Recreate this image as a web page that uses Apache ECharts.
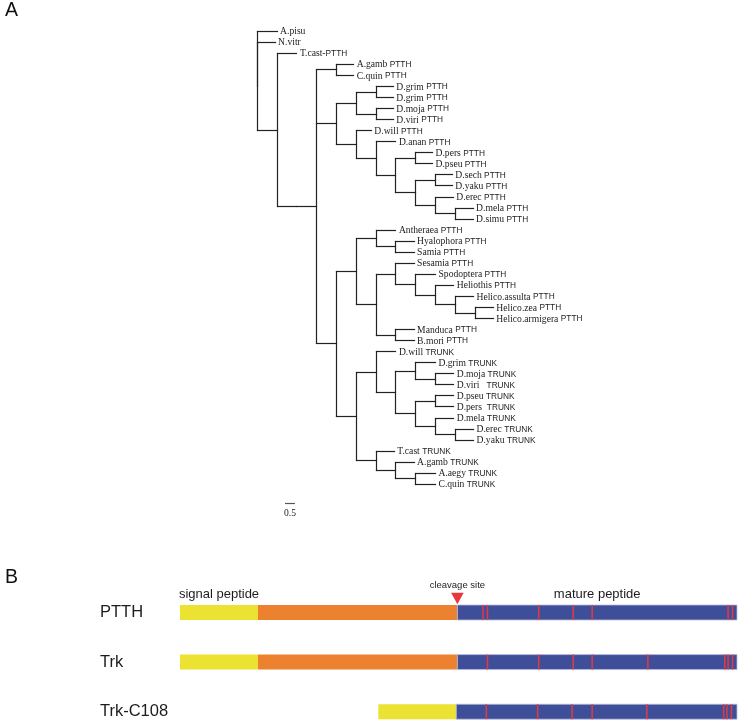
<!DOCTYPE html>
<html><head><meta charset="utf-8">
<script src="https://cdn.jsdelivr.net/npm/echarts@6/dist/echarts.min.js"></script>
<style>html,body{margin:0;padding:0;background:#fff}#c{width:742px;height:723px}</style>
</head><body><div id="c"></div><script>
// ================= Panel A data =================
const leafLabels = [
  'A.pisu','N.vitr','T.cast-PTTH','A.gamb PTTH','C.quin PTTH',
  'D.grim PTTH','D.grim PTTH','D.moja PTTH','D.viri PTTH','D.will PTTH',
  'D.anan PTTH','D.pers PTTH','D.pseu PTTH','D.sech PTTH','D.yaku PTTH',
  'D.erec PTTH','D.mela PTTH','D.simu PTTH','Antheraea PTTH','Hyalophora PTTH',
  'Samia PTTH','Sesamia PTTH','Spodoptera PTTH','Heliothis PTTH','Helico.assulta PTTH',
  'Helico.zea PTTH','Helico.armigera PTTH','Manduca PTTH','B.mori PTTH','D.will TRUNK',
  'D.grim TRUNK','D.moja TRUNK','D.viri   TRUNK','D.pseu TRUNK','D.pers  TRUNK',
  'D.mela TRUNK','D.erec TRUNK','D.yaku TRUNK','T.cast TRUNK','A.gamb TRUNK',
  'A.aegy TRUNK','C.quin TRUNK'
];
// Newick topology; leaf names are indices into leafLabels, branch lengths in tree units
const cladeDipteraPTTH = "((3:0.87,4:0.87):1,(((5:0.87,6:0.87):1,(7:0.87,8:0.87):1):1,(9:0.76,(10:1,((11:0.85,12:0.85):1,((13:0.85,14:0.85):1,(15:0.9,(16:0.9,17:0.9):1):1):1):1):1):1)";
const cladeLepPTTH = "((18:1,(19:0.92,20:0.92):1):1,((21:0.92,(22:1,(23:0.92,(24:0.92,(25:0.92,26:0.92):1):1):1):1):1,(27:0.92,28:0.92):1):1)";
const cladeTRUNK = "((29:1,((30:1,(31:0.92,32:0.92):1):1,((33:0.92,34:0.92):1,(35:0.92,(36:0.92,37:0.92):1):1):1):1):1,(38:0.92,(39:0.92,(40:1,41:1):1):1):1)";
const treeNewick = "(0:1,(1:0.9,(2:1,(" + cladeDipteraPTTH + ":1,(" + cladeLepPTTH + ":1," + cladeTRUNK + ":1):1):1):1):1);";
const scaleBarLength = [0.5];
const scaleBarLabel = ['0.5'];
const panelLetters = ['A','B'];

// ================= Panel B data =================
const proteins = ['PTTH','Trk','Trk-C108'];
const signalSeg = [[0,35],[0,35],[89,124]];
const proSeg = [[35,124.5],[35,124.5],null];
const matureSeg = [[124.5,250],[124.5,250],[124,250]];
const cysteinePos = [
  [136,138,161,176.5,185,246,248],
  [138,161,176.5,185,210,244.5,246,248],
  [137.5,160.5,176,185,209.5,244,245.5,247.5]
];
const cleavageSite = [124.5];
const regionLabels = ['signal peptide','cleavage site','mature peptide'];

// ================= build tree =================
function parseNewick(s){
  let i=0;
  function node(){
    const n={children:[],name:'',len:0};
    if(s[i]==='('){
      i++; n.children.push(node());
      while(s[i]===','){i++; n.children.push(node());}
      i++;
    }
    let name='';
    while(i<s.length && !':,);'.includes(s[i])){name+=s[i];i++;}
    n.name=name;
    if(s[i]===':'){i++; let num=''; while(i<s.length && !',);'.includes(s[i])){num+=s[i];i++;} n.len=parseFloat(num);}
    return n;
  }
  return node();
}
const root = parseNewick(treeNewick);
function place(n, x){
  n.x = x + (n.len||0);
  if(!n.children.length){ n.y = parseInt(n.name,10); }
  else { n.children.forEach(c=>place(c,n.x)); n.y=(n.children[0].y+n.children[n.children.length-1].y)/2; }
}
root.len=0; place(root,0);
const treeData=[];
function collect(n,px){
  const leaf=!n.children.length;
  treeData.push([n.x,n.y,px, leaf?n.y:n.children[0].y, leaf?n.y:n.children[n.children.length-1].y, leaf?parseInt(n.name,10):-1]);
  n.children.forEach(c=>collect(c,n.x));
}
collect(root,root.x);

const LINE='#222', TXT='#1e1b1c';
const px5 = v => Math.round(v-0.5)+0.5;

function treeRender(params, api){
  const x=api.value(0), y=api.value(1), pxv=api.value(2);
  const p=api.coord([x,y]), pp=api.coord([pxv,y]);
  const yy=px5(p[1]);
  const ch=[];
  if(Math.abs(p[0]-pp[0])>0.1){
    ch.push({type:'line',shape:{x1:px5(pp[0]),y1:yy,x2:px5(p[0]),y2:yy},style:{stroke:LINE,lineWidth:1.2,lineCap:'square'}});
  }
  const li=api.value(5);
  if(li<0){
    const a=api.coord([x,api.value(3)]), b=api.coord([x,api.value(4)]);
    ch.push({type:'line',shape:{x1:px5(a[0]),y1:px5(a[1]),x2:px5(b[0]),y2:px5(b[1])},style:{stroke:LINE,lineWidth:1.2,lineCap:'square'}});
  } else {
    const lab=leafLabels[li];
    const m=lab.match(/^(.*?)([ \-]*)(PTTH|TRUNK)$/);
    let txt;
    if(m){ txt='{s|'+m[1]+m[2]+'}{u|'+m[3]+'}'; } else { txt='{s|'+lab+'}'; }
    ch.push({type:'text',x:p[0]+3,y:p[1]+0.5,style:{text:txt,align:'left',verticalAlign:'middle',
      rich:{s:{fontFamily:'Liberation Serif',fontSize:9.6,fill:TXT},u:{fontFamily:'Liberation Sans',fontSize:8.3,fill:TXT}}}});
  }
  return {type:'group',children:ch};
}

function scaleRender(params, api){
  const a=api.coord([api.value(0),api.value(1)]), b=api.coord([api.value(0)+api.value(2),api.value(1)]);
  return {type:'group',children:[
    {type:'line',shape:{x1:a[0],y1:px5(a[1]),x2:b[0],y2:px5(a[1])},style:{stroke:'#555',lineWidth:1.2}},
    {type:'text',x:(a[0]+b[0])/2,y:a[1]+10.5,style:{text:scaleBarLabel[0],align:'center',verticalAlign:'middle',fontFamily:'Liberation Serif',fontSize:9.6,fill:TXT}}
  ]};
}

// ================= panel B items =================
const COLORS=['#EBE232','#EC812F','#3F4E99'];
const segData=[];
proteins.forEach((p,r)=>{
  segData.push([signalSeg[r][0],signalSeg[r][1],r,0]);
  if(proSeg[r]) segData.push([proSeg[r][0],proSeg[r][1],r,1]);
  segData.push([matureSeg[r][0],matureSeg[r][1],r,2]);
});
const cysData=[];
cysteinePos.forEach((arr,r)=>arr.forEach(v=>cysData.push([v,r])));

function segRender(params, api){
  const s=api.coord([api.value(0),api.value(2)]), e=api.coord([api.value(1),api.value(2)]);
  const blue=api.value(3)===2;
  return {type:'rect',shape:{x:s[0],y:s[1]-7.5,width:e[0]-s[0],height:15},
    style:{fill:COLORS[api.value(3)],stroke:blue?'#b9bde0':null,lineWidth:blue?0.8:0}};
}
function cysRender(params, api){
  const c=api.coord([api.value(0),api.value(1)]);
  return {type:'rect',shape:{x:c[0]-0.75,y:c[1]-7.5,width:1.5,height:15},style:{fill:'#E6393E'}};
}
function annRender(params, api){
  const c=api.coord([cleavageSite[0],0]);
  const sMid=api.coord([(signalSeg[0][0]+signalSeg[0][1])/2,0]);
  const mMid=api.coord([(matureSeg[0][0]+matureSeg[0][1])/2,0]);
  return {type:'group',children:[
    {type:'polygon',shape:{points:[[c[0]-6.3,c[1]-19.8],[c[0]+6.3,c[1]-19.8],[c[0],c[1]-8.3]]},style:{fill:'#E6393E'}},
    {type:'text',x:sMid[0],y:c[1]-18.5,style:{text:regionLabels[0],align:'center',verticalAlign:'middle',fontFamily:'Liberation Sans',fontSize:13,fill:TXT}},
    {type:'text',x:c[0],y:c[1]-27.5,style:{text:regionLabels[1],align:'center',verticalAlign:'middle',fontFamily:'Liberation Sans',fontSize:9.5,fill:TXT}},
    {type:'text',x:mMid[0],y:c[1]-18.5,style:{text:regionLabels[2],align:'center',verticalAlign:'middle',fontFamily:'Liberation Sans',fontSize:13,fill:TXT}}
  ]};
}

const chart=echarts.init(document.getElementById('c'),null,{renderer:'canvas'});
chart.setOption({
  animation:false,
  backgroundColor:'#fff',
  title:[
    {text:panelLetters[0],left:5,top:1,padding:0,textStyle:{fontSize:19.5,fontWeight:'normal',fontFamily:'Liberation Sans',color:'#111'}},
    {text:panelLetters[1],left:5,top:568,padding:0,textStyle:{fontSize:19.5,fontWeight:'normal',fontFamily:'Liberation Sans',color:'#111'}}
  ],
  grid:[
    {left:257.3,top:31.3,width:396,height:453},
    {left:180,top:612.5,width:557,height:99.2}
  ],
  xAxis:[
    {gridIndex:0,type:'value',min:0,max:20,show:false},
    {gridIndex:1,type:'value',min:0,max:250,show:false}
  ],
  yAxis:[
    {gridIndex:0,type:'value',min:0,max:41,inverse:true,show:false},
    {gridIndex:1,type:'value',min:0,max:2,interval:1,inverse:true,
      axisLine:{show:false},axisTick:{show:false},splitLine:{show:false},
      axisLabel:{formatter:v=>proteins[v]||'',align:'left',margin:80,fontSize:16.5,fontFamily:'Liberation Sans',color:TXT}}
  ],
  series:[
    {type:'custom',xAxisIndex:0,yAxisIndex:0,renderItem:treeRender,data:treeData,clip:false,silent:true},
    {type:'custom',xAxisIndex:0,yAxisIndex:0,renderItem:scaleRender,data:[[1.4,42.7,scaleBarLength[0]]],clip:false,silent:true},
    {type:'custom',xAxisIndex:1,yAxisIndex:1,renderItem:segRender,data:segData,clip:false,silent:true},
    {type:'custom',xAxisIndex:1,yAxisIndex:1,renderItem:cysRender,data:cysData,clip:false,silent:true},
    {type:'custom',xAxisIndex:1,yAxisIndex:1,renderItem:annRender,data:[[cleavageSite[0],0]],clip:false,silent:true}
  ]
});
</script></body></html>
